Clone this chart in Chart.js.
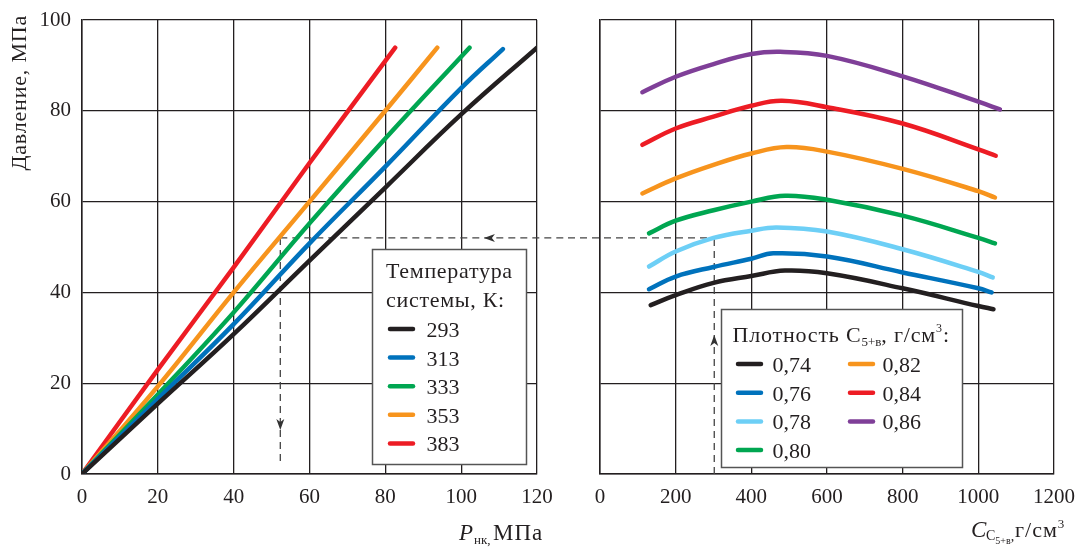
<!doctype html>
<html>
<head>
<meta charset="utf-8">
<title>Давление</title>
<script src="https://cdn.jsdelivr.net/npm/chart.js@4.4.1/dist/chart.umd.min.js"></script>
<style>
    body { margin: 0; background: #fff; }
    .panel { position: absolute; top: 0; }
    #left-con { left: 0; }
    #right-con { left: 568px; }
</style>
</head>
<body>
<div id="left-con" class="panel"><canvas id="left-chart" width="568" height="547"></canvas></div>
<div id="right-con" class="panel"><canvas id="right-chart" width="512" height="547"></canvas></div>
<script>
    // left panel: pressure vs P_nk for system temperatures
    var tempLabels = ['293', '313', '333', '353', '383'];
    var tempColors = ['#231f20', '#0072bc', '#00a651', '#f7941d', '#ed1c24'];
    var pnk293 = [0, 20, 40, 60, 80, 100, 120];
    var pres293 = [0, 15.5, 30.8, 47, 63.1, 79.2, 93.9];
    var pnk313 = [0, 20, 40, 60, 80, 100, 111];
    var pres313 = [0, 16.5, 33, 50.8, 67.7, 85, 93.6];
    var pnk333 = [0, 20, 40, 60, 80, 102.2];
    var pres333 = [0, 17.5, 35.6, 55.2, 73.9, 93.9];
    var pnk353 = [0, 20, 40, 60, 80, 93.7];
    var pres353 = [0, 19.3, 40, 60, 80, 93.9];
    var pnk383 = [0, 20, 40, 60, 82.6];
    var pres383 = [0, 23, 45.5, 68.5, 93.9];

    // right panel: pressure vs C5+ concentration for densities
    var densLabels = ['0,74', '0,76', '0,78', '0,80', '0,82', '0,84', '0,86'];
    var densColors = ['#231f20', '#0072bc', '#6dcff6', '#00a651', '#f7941d', '#ed1c24', '#7f3f98'];
    var c074 = [134, 200, 300, 400, 489, 600, 800, 1000, 1040];
    var p074 = [37.2, 39.4, 42.1, 43.6, 44.8, 44.2, 40.9, 37.0, 36.3];
    var c076 = [129.5, 200, 300, 400, 458, 600, 800, 1000, 1035];
    var p076 = [40.7, 43.5, 45.6, 47.4, 48.6, 47.9, 44.4, 40.9, 40];
    var c078 = [129.5, 200, 300, 400, 467, 600, 800, 1000, 1038];
    var p078 = [45.7, 49, 52, 53.6, 54.3, 53.4, 49.5, 44.5, 43.3];
    var c080 = [129.5, 200, 300, 400, 489, 600, 800, 1000, 1044];
    var p080 = [53, 55.8, 58.1, 60, 61.3, 60.4, 56.9, 52, 50.8];
    var c082 = [112, 200, 300, 400, 493, 600, 800, 1000, 1044];
    var p082 = [61.8, 65.1, 68.1, 70.6, 72, 71, 67.2, 62.3, 60.9];
    var c084 = [112, 200, 300, 400, 481, 600, 800, 1000, 1046];
    var p084 = [72.5, 76.1, 78.7, 81.1, 82.2, 80.8, 77.2, 71.5, 70.1];
    var c086 = [112, 200, 300, 400, 476, 600, 800, 1000, 1057];
    var p086 = [84.1, 87.5, 90.3, 92.5, 93, 92.1, 87.6, 82, 80.3];

    // reading guide (dashed)
    var guidePres = 52;
    var guidePnk = 52.3;
    var guideC = 302;

    var FONT = "'Liberation Serif', 'Times New Roman', serif";
    var INK = '#231f20';

    var pts = function(xs, ys) {
        return xs.map(function(x, i) { return { x: x, y: ys[i] }; });
    };

    var makeSet = function(label, color, xs, ys) {
        return {
            label: label,
            data: pts(xs, ys),
            borderColor: color,
            backgroundColor: color,
            borderWidth: 4.5,
            borderCapStyle: 'round',
            borderJoinStyle: 'round',
            pointRadius: 0,
            tension: 0.4,
            fill: false
        };
    };

    var setFont = function(ctx, size, italic, spacing) {
        ctx.font = (italic ? 'italic ' : '') + size + 'px ' + FONT;
        ctx.letterSpacing = (spacing || 0) + 'px';
    };

    // text piece: [text, x, y, size, italic, spacing]
    var put = function(ctx, p) {
        setFont(ctx, p[3], p[4], p[5]);
        ctx.fillStyle = INK;
        ctx.textAlign = 'left';
        ctx.textBaseline = 'alphabetic';
        ctx.fillText(p[0], p[1], p[2]);
        var w = ctx.measureText(p[0]).width;
        ctx.letterSpacing = '0px';
        return p[1] + w;
    };

    var arrow = function(ctx, x, y, dir) {
        ctx.save();
        ctx.translate(x, y);
        if (dir === 'down') ctx.rotate(-Math.PI / 2);
        if (dir === 'up') ctx.rotate(Math.PI / 2);
        ctx.beginPath();
        ctx.moveTo(0, 0);
        ctx.lineTo(11, -4);
        ctx.lineTo(8, 0);
        ctx.lineTo(11, 4);
        ctx.closePath();
        ctx.fillStyle = '#333';
        ctx.fill();
        ctx.restore();
    };

    var dashed = function(ctx, x1, y1, x2, y2) {
        ctx.save();
        ctx.strokeStyle = '#444';
        ctx.lineWidth = 1.3;
        ctx.setLineDash([7, 5]);
        ctx.beginPath();
        ctx.moveTo(x1, y1);
        ctx.lineTo(x2, y2);
        ctx.stroke();
        ctx.restore();
    };

    var legendLine = function(ctx, x1, x2, y, color) {
        ctx.save();
        ctx.strokeStyle = color;
        ctx.lineWidth = 4.5;
        ctx.lineCap = 'round';
        ctx.beginPath();
        ctx.moveTo(x1, y);
        ctx.lineTo(x2, y);
        ctx.stroke();
        ctx.restore();
    };

    var legendBox = function(ctx, x, y, w, h) {
        ctx.save();
        ctx.fillStyle = '#fff';
        ctx.fillRect(x, y, w, h);
        ctx.strokeStyle = '#555';
        ctx.lineWidth = 1.5;
        ctx.strokeRect(x, y, w, h);
        ctx.restore();
    };

    var scaleOpts = function(min, max, step, showTicks, fitW, fitH, pad) {
        return {
            type: 'linear',
            min: min,
            max: max,
            ticks: {
                stepSize: step,
                display: showTicks,
                color: INK,
                padding: pad,
                font: { family: FONT, size: 21 },
                maxRotation: 0,
                callback: function(v) { return String(v); }
            },
            grid: { color: INK, lineWidth: 1.3, drawTicks: false },
            border: { color: INK, width: 1.5 },
            afterFit: function(scale) {
                if (fitW) scale.width = fitW;
                if (fitH) scale.height = fitH;
                scale.paddingTop = 0;
                scale.paddingBottom = 0;
                scale.paddingLeft = 0;
                scale.paddingRight = 0;
            }
        };
    };

    var leftPlugin = {
        id: 'leftDecor',
        beforeDatasetsDraw: function(chart) {
            var ctx = chart.ctx, xs = chart.scales.x, ys = chart.scales.y;
            var gy = ys.getPixelForValue(guidePres), gx = xs.getPixelForValue(guidePnk);
            dashed(ctx, gx, gy, chart.width, gy);
            arrow(ctx, xs.getPixelForValue(106), gy, 'left');
            dashed(ctx, gx, gy, gx, ys.getPixelForValue(2));
            arrow(ctx, gx, ys.getPixelForValue(9.7), 'down');
        },
        afterDraw: function(chart) {
            var ctx = chart.ctx;
            // y title
            ctx.save();
            ctx.translate(20, 15);
            ctx.rotate(-Math.PI / 2);
            setFont(ctx, 22, false, 0.8);
            ctx.fillStyle = INK;
            ctx.textAlign = 'right';
            ctx.textBaseline = 'middle';
            ctx.fillText('Давление, МПа', 0, 0);
            ctx.letterSpacing = '0px';
            ctx.restore();
            // x title
            put(ctx, ['P', 459, 540, 23, true]);
            put(ctx, ['нк,', 474, 544, 13, false]);
            put(ctx, ['МПа', 493, 540, 23, false, 1]);
            // legend
            legendBox(ctx, 372.5, 249.5, 154, 215);
            put(ctx, ['Температура', 386, 278, 22, false, 0.7]);
            put(ctx, ['системы, К:', 386, 306.5, 22, false, 0.7]);
            chart.data.datasets.forEach(function(ds, i) {
                var y = 329 + i * 28.6;
                legendLine(ctx, 390, 413, y, ds.borderColor);
                put(ctx, [ds.label, 426.5, y + 8, 22, false]);
            });
        }
    };

    var rightPlugin = {
        id: 'rightDecor',
        beforeDatasetsDraw: function(chart) {
            var ctx = chart.ctx, xs = chart.scales.x, ys = chart.scales.y;
            var gy = ys.getPixelForValue(guidePres), gx = xs.getPixelForValue(guideC);
            dashed(ctx, 0, gy, gx, gy);
            dashed(ctx, gx, ys.getPixelForValue(0), gx, gy);
            arrow(ctx, gx, ys.getPixelForValue(30.6), 'up');
        },
        afterDraw: function(chart) {
            var ctx = chart.ctx;
            var ox = -568;
            // x title
            put(ctx, ['C', 971 + ox, 537, 23, true]);
            var ex = put(ctx, ['C', 986 + ox, 540, 14, false]);
            ex = put(ctx, ['5+в', ex, 544, 10, false]);
            put(ctx, [',', ex, 541, 14, false]);
            ex = put(ctx, ['г/см', 1015 + ox, 537, 22, false, 1]);
            put(ctx, ['3', ex, 528, 13, false]);
            // legend
            legendBox(ctx, 721.5 + ox, 309.5, 241, 158);
            var tx = put(ctx, ['Плотность C', 732.5 + ox, 341.5, 22, false, 0.8]);
            tx = put(ctx, ['5+в', tx, 345.5, 13, false]);
            tx = put(ctx, [', г/см', tx, 341.5, 22, false, 0.8]);
            tx = put(ctx, ['3', tx, 332, 12, false]);
            put(ctx, [':', tx + 1, 341.5, 22, false]);
            chart.data.datasets.forEach(function(ds, i) {
                var col = i < 4 ? 0 : 1;
                var row = i < 4 ? i : i - 4;
                var y = 364 + row * 28.7;
                var lx = (col ? 850 : 738) + ox;
                legendLine(ctx, lx, lx + 23, y, ds.borderColor);
                put(ctx, [ds.label, (col ? 882.5 : 772.5) + ox, y + 8, 22, false]);
            });
        }
    };

    var baseOptions = function(xScale, yScale, pad) {
        return {
            responsive: false,
            animation: false,
            layout: { padding: pad },
            plugins: { legend: { display: false }, tooltip: { enabled: false } },
            scales: { x: xScale, y: yScale }
        };
    };

    window.onload = function() {
        var leftCfg = {
            type: 'line',
            data: {
                datasets: [
                    makeSet(tempLabels[0], tempColors[0], pnk293, pres293),
                    makeSet(tempLabels[1], tempColors[1], pnk313, pres313),
                    makeSet(tempLabels[2], tempColors[2], pnk333, pres333),
                    makeSet(tempLabels[3], tempColors[3], pnk353, pres353),
                    makeSet(tempLabels[4], tempColors[4], pnk383, pres383)
                ]
            },
            options: baseOptions(
                scaleOpts(0, 120, 20, true, null, 73, 11),
                scaleOpts(0, 100, 20, true, 82, null, 11),
                { top: 20, right: 31, left: 0, bottom: 0 }
            ),
            plugins: [leftPlugin]
        };

        var rightCfg = {
            type: 'line',
            data: {
                datasets: [
                    makeSet(densLabels[0], densColors[0], c074, p074),
                    makeSet(densLabels[1], densColors[1], c076, p076),
                    makeSet(densLabels[2], densColors[2], c078, p078),
                    makeSet(densLabels[3], densColors[3], c080, p080),
                    makeSet(densLabels[4], densColors[4], c082, p082),
                    makeSet(densLabels[5], densColors[5], c084, p084),
                    makeSet(densLabels[6], densColors[6], c086, p086)
                ]
            },
            options: baseOptions(
                scaleOpts(0, 1200, 200, true, null, 73, 11),
                scaleOpts(0, 100, 20, false, 32, null, 0),
                { top: 20, right: 26, left: 0, bottom: 0 }
            ),
            plugins: [rightPlugin]
        };

        window.leftChart = new Chart(document.getElementById('left-chart').getContext('2d'), leftCfg);
        window.rightChart = new Chart(document.getElementById('right-chart').getContext('2d'), rightCfg);
    };
</script>
</body>
</html>
